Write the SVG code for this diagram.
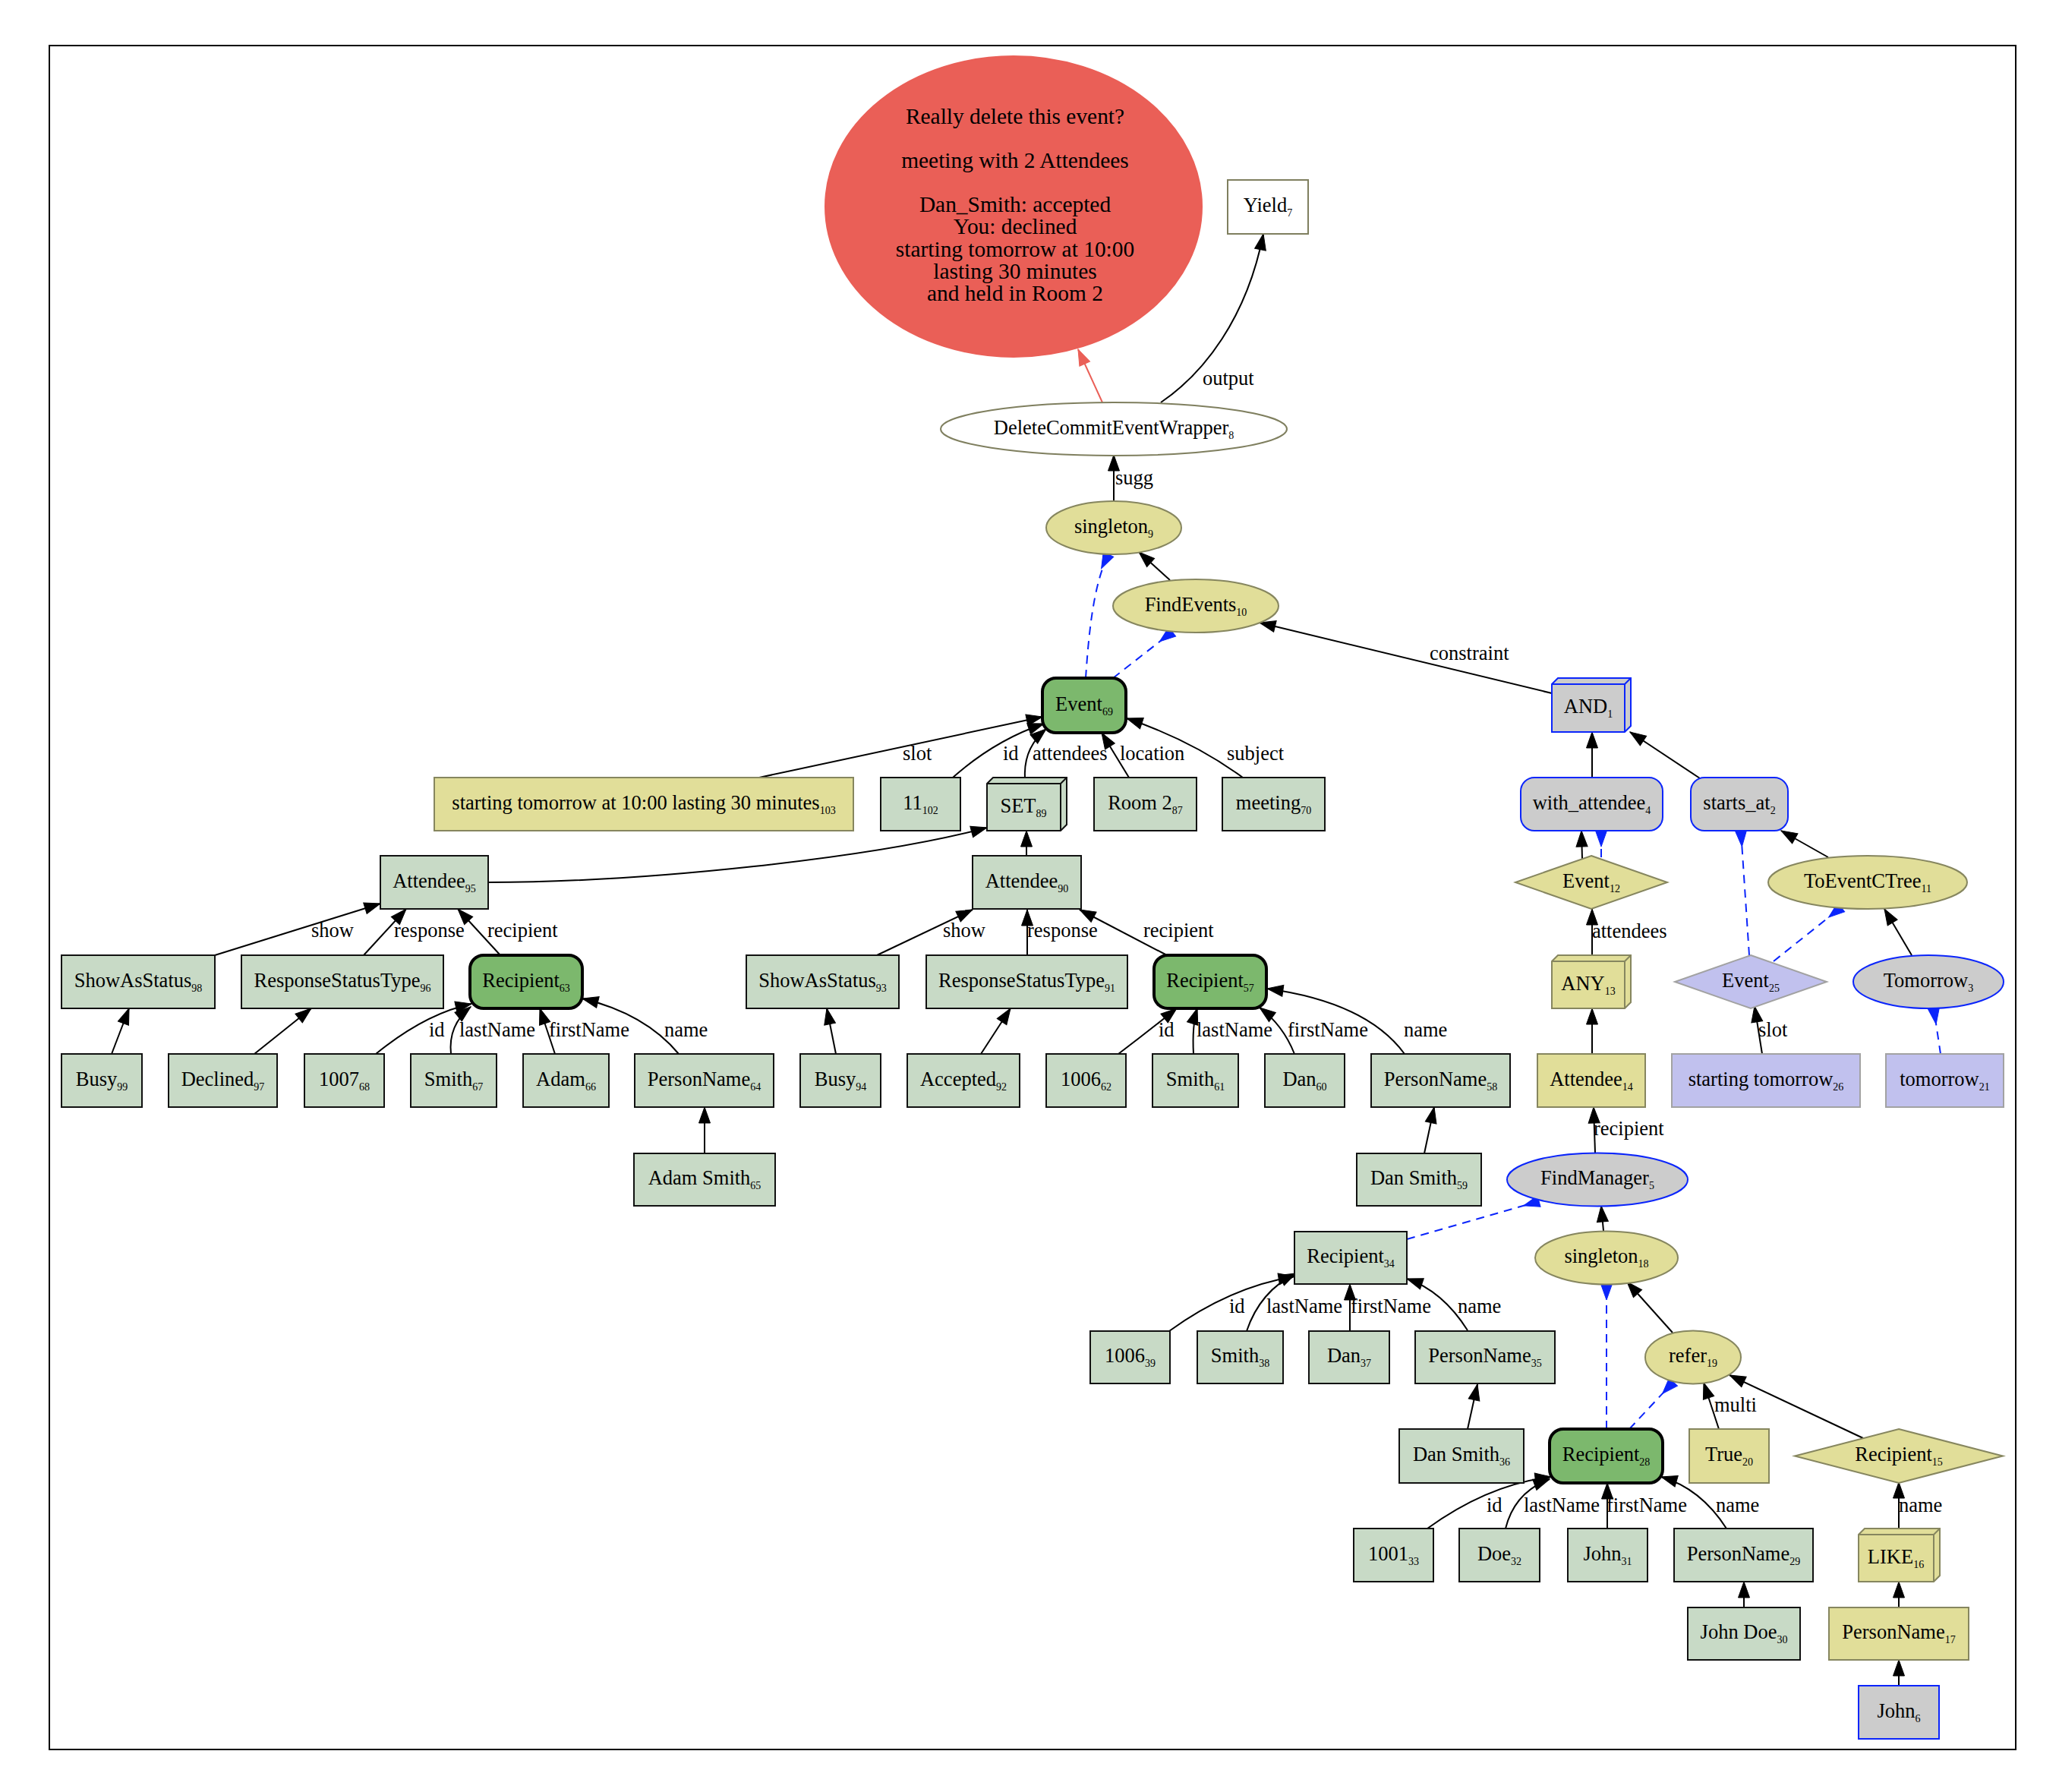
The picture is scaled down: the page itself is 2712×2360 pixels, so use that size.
<svg xmlns="http://www.w3.org/2000/svg" width="2712" height="2360" viewBox="0 0 2712 2360">
<defs>
<style>
text{font-family:"Liberation Serif","Times New Roman",serif;font-size:26.5px;fill:#000}
.n{text-anchor:middle}
.s{font-size:14px}
.rt{font-size:29.4px;text-anchor:middle}
.sage{fill:#c8dac6;stroke:#111;stroke-width:2}
.green{fill:#7cb86d;stroke:#000;stroke-width:4}
.yel{fill:#e1de99;stroke:#86865f;stroke-width:2}
.lav{fill:#c1c1ee;stroke:#a2a2a2;stroke-width:2}
.gray{fill:#cccccc;stroke:#0b25fb;stroke-width:2}
.wht{fill:#fff;stroke:#7f7f5f;stroke-width:2}
.red{fill:#ea5f57;stroke:#ea5f57;stroke-width:2}
.e{fill:none;stroke:#000;stroke-width:2;marker-end:url(#ah)}
.er{fill:none;stroke:#ea5f57;stroke-width:2;marker-end:url(#rh)}
.b{fill:none;stroke:#0b25fb;stroke-width:2;stroke-dasharray:11,8;marker-end:url(#bh)}
.ln{fill:none}
</style>
<marker id="ah" markerUnits="userSpaceOnUse" markerWidth="22" markerHeight="16" refX="0" refY="0" orient="auto" overflow="visible"><path d="M-21,-7.5 L0,0 L-21,7.5 z" fill="#000" stroke="#000" stroke-width="1"/></marker>
<marker id="rh" markerUnits="userSpaceOnUse" markerWidth="22" markerHeight="16" refX="0" refY="0" orient="auto" overflow="visible"><path d="M-21,-7.5 L0,0 L-21,7.5 z" fill="#ea5f57" stroke="#ea5f57" stroke-width="1"/></marker>
<marker id="bh" markerUnits="userSpaceOnUse" markerWidth="22" markerHeight="16" refX="0" refY="0" orient="auto" overflow="visible"><path d="M0,-7.5 L0,7.5 L-21,0 z" fill="#0b25fb" stroke="#0b25fb" stroke-width="1" stroke-dasharray="none"/></marker>
</defs>
<rect x="0" y="0" width="2712" height="2360" fill="#fff"/>
<rect x="65" y="60" width="2590" height="2244" fill="none" stroke="#000" stroke-width="2"/>

<g id="edges">
<path class="er" d="M1452,530 L1420,460"/>
<path class="e" d="M1529,530 C1585,492 1642,420 1664,308"/>
<path class="e" d="M1467,660 L1467,599"/>
<path class="e" d="M1541,764 L1500,727"/>
<path class="b" d="M1430,893 C1434,835 1440,770 1460,730"/>
<path class="b" d="M1466,893 L1544,832"/>
<path class="e" d="M2044,913 L1659,820"/>
<path class="e" d="M1000,1024 L1373,944"/>
<path class="e" d="M1255,1024 Q1310,975 1375,953"/>
<path class="e" d="M1350,1024 Q1348,985 1378,960"/>
<path class="e" d="M1487,1024 L1451,965"/>
<path class="e" d="M1637,1024 Q1570,975 1484,946"/>
<path class="e" d="M2097,1025 L2097,964"/>
<path class="e" d="M2239,1025 L2147,964"/>
<path class="e" d="M643,1162 C850,1162 1150,1130 1300,1090"/>
<path class="e" d="M1352,1127 L1352,1094"/>
<path class="e" d="M2084,1131 L2083,1094"/>
<path class="b" d="M2109,1129 L2109,1094"/>
<path class="e" d="M2408,1129 L2346,1094"/>
<path class="e" d="M283,1258 L501,1190"/>
<path class="e" d="M479,1258 L535,1197"/>
<path class="e" d="M659,1258 L603,1197"/>
<path class="e" d="M1155,1258 L1281,1198"/>
<path class="e" d="M1353,1258 L1353,1198"/>
<path class="e" d="M1537,1258 L1422,1198"/>
<path class="e" d="M2097,1258 L2097,1197"/>
<path class="b" d="M2304,1258 L2293,1094"/>
<path class="b" d="M2336,1266 L2425,1195"/>
<path class="e" d="M2518,1258 L2482,1197"/>
<path class="e" d="M147,1388 L170,1328"/>
<path class="e" d="M335,1388 L410,1328"/>
<path class="e" d="M495,1388 Q560,1335 621,1322"/>
<path class="e" d="M594,1388 Q590,1350 620,1326"/>
<path class="e" d="M731,1388 L711,1328"/>
<path class="e" d="M894,1388 Q850,1335 767,1315"/>
<path class="e" d="M1101,1388 L1089,1328"/>
<path class="e" d="M1292,1388 L1331,1328"/>
<path class="e" d="M1473,1388 Q1510,1360 1550,1328"/>
<path class="e" d="M1572,1388 Q1570,1350 1577,1328"/>
<path class="e" d="M1705,1388 Q1690,1350 1659,1327"/>
<path class="e" d="M1850,1388 Q1800,1320 1669,1302"/>
<path class="e" d="M2097,1388 L2097,1328"/>
<path class="e" d="M2321,1388 L2311,1325"/>
<path class="b" d="M2556,1388 L2547,1328"/>
<path class="e" d="M928,1519 L928,1458"/>
<path class="e" d="M1876,1519 L1889,1458"/>
<path class="e" d="M2101,1518 L2099,1458"/>
<path class="b" d="M1853,1632 L2027,1582"/>
<path class="e" d="M2112,1621 L2109,1588"/>
<path class="e" d="M1540,1753 Q1620,1695 1705,1681"/>
<path class="e" d="M1642,1753 Q1660,1700 1707,1677"/>
<path class="e" d="M1778,1753 L1778,1691"/>
<path class="e" d="M1933,1752 Q1900,1700 1853,1684"/>
<path class="e" d="M2203,1755 L2143,1688"/>
<path class="b" d="M2116,1882 L2116,1691"/>
<path class="b" d="M2146,1882 L2204,1820"/>
<path class="e" d="M1933,1882 L1946,1823"/>
<path class="e" d="M2264,1882 L2244,1821"/>
<path class="e" d="M2454,1894 L2278,1811"/>
<path class="e" d="M1880,2013 Q1960,1955 2043,1945"/>
<path class="e" d="M1983,2013 Q1995,1965 2041,1948"/>
<path class="e" d="M2117,2013 L2117,1953"/>
<path class="e" d="M2274,2013 Q2240,1960 2188,1945"/>
<path class="e" d="M2501,2013 L2501,1952"/>
<path class="e" d="M2297,2117 L2297,2083"/>
<path class="e" d="M2501,2117 L2501,2083"/>
<path class="e" d="M2501,2220 L2501,2186"/>
<text x="1584" y="507">output</text>
<text x="1469" y="638">sugg</text>
<text x="1883" y="869">constraint</text>
<text x="1189" y="1001">slot</text>
<text x="1321" y="1001">id</text>
<text x="1360" y="1001">attendees</text>
<text x="1475" y="1001">location</text>
<text x="1616" y="1001">subject</text>
<text x="2097" y="1235">attendees</text>
<text x="410" y="1234">show</text>
<text x="519" y="1234">response</text>
<text x="642" y="1234">recipient</text>
<text x="1242" y="1234">show</text>
<text x="1353" y="1234">response</text>
<text x="1506" y="1234">recipient</text>
<text x="565" y="1365">id</text>
<text x="605" y="1365">lastName</text>
<text x="723" y="1365">firstName</text>
<text x="875" y="1365">name</text>
<text x="1526" y="1365">id</text>
<text x="1576" y="1365">lastName</text>
<text x="1696" y="1365">firstName</text>
<text x="1849" y="1365">name</text>
<text x="2316" y="1365">slot</text>
<text x="2099" y="1495">recipient</text>
<text x="1619" y="1729">id</text>
<text x="1668" y="1729">lastName</text>
<text x="1779" y="1729">firstName</text>
<text x="1920" y="1729">name</text>
<text x="2258" y="1859">multi</text>
<text x="1958" y="1991">id</text>
<text x="2007" y="1991">lastName</text>
<text x="2116" y="1991">firstName</text>
<text x="2260" y="1991">name</text>
<text x="2501" y="1991">name</text>
</g>

<g id="node-confirm"><ellipse class="red" cx="1335" cy="272" rx="248" ry="198"/>
<text class="rt" x="1337" y="163">Really delete this event?</text>
<text class="rt" x="1337" y="221">meeting with 2 Attendees</text>
<text class="rt" x="1337" y="279">Dan_Smith: accepted</text>
<text class="rt" x="1337" y="308">You: declined</text>
<text class="rt" x="1337" y="338">starting tomorrow at 10:00</text>
<text class="rt" x="1337" y="367">lasting 30 minutes</text>
<text class="rt" x="1337" y="396">and held in Room 2</text></g>
<g id="n7"><rect class="wht" x="1617" y="237" width="106" height="71"/><text class="n" x="1670" y="279">Yield<tspan class="s" dy="6">7</tspan></text></g>
<g id="n8"><ellipse class="wht" cx="1467" cy="565" rx="228" ry="35"/><text class="n" x="1467" y="572">DeleteCommitEventWrapper<tspan class="s" dy="6">8</tspan></text></g>
<g id="n9"><ellipse class="yel" cx="1467" cy="695" rx="89" ry="35"/><text class="n" x="1467" y="702">singleton<tspan class="s" dy="6">9</tspan></text></g>
<g id="n10"><ellipse class="yel" cx="1575" cy="798" rx="109" ry="35"/><text class="n" x="1575" y="805">FindEvents<tspan class="s" dy="6">10</tspan></text></g>
<g id="n69"><rect class="green" x="1373" y="893" width="110" height="72" rx="18"/><text class="n" x="1428" y="936">Event<tspan class="s" dy="6">69</tspan></text></g>
<g id="n1"><path class="gray" d="M2044,901 L2052,893 L2148,893 L2148,956 L2140,964 L2044,964 Z M2044,901 L2140,901 L2140,964 M2140,901 L2148,893"/><text class="n" x="2092" y="939">AND<tspan class="s" dy="6">1</tspan></text></g>

<g id="n103"><rect class="yel" x="572" y="1024" width="552" height="70"/><text class="n" x="848" y="1066">starting tomorrow at 10:00 lasting 30 minutes<tspan class="s" dy="6">103</tspan></text></g>
<g id="n102"><rect class="sage" x="1160" y="1024" width="105" height="70"/><text class="n" x="1212.5" y="1066">11<tspan class="s" dy="6">102</tspan></text></g>
<g id="n89"><path class="sage" d="M1300,1032 L1308,1024 L1405,1024 L1405,1086 L1397,1094 L1300,1094 Z M1300,1032 L1397,1032 L1397,1094 M1397,1032 L1405,1024"/><text class="n" x="1348" y="1070">SET<tspan class="s" dy="6">89</tspan></text></g>
<g id="n87"><rect class="sage" x="1441" y="1024" width="135" height="70"/><text class="n" x="1508.5" y="1066">Room 2<tspan class="s" dy="6">87</tspan></text></g>
<g id="n70"><rect class="sage" x="1610" y="1024" width="135" height="70"/><text class="n" x="1677.5" y="1066">meeting<tspan class="s" dy="6">70</tspan></text></g>
<g id="n4"><rect class="gray" x="2003" y="1024" width="187" height="70" rx="18"/><text class="n" x="2096.5" y="1066">with_attendee<tspan class="s" dy="6">4</tspan></text></g>
<g id="n2"><rect class="gray" x="2227" y="1024" width="128" height="70" rx="18"/><text class="n" x="2291" y="1066">starts_at<tspan class="s" dy="6">2</tspan></text></g>

<g id="n95"><rect class="sage" x="501" y="1127" width="142" height="70"/><text class="n" x="572" y="1169">Attendee<tspan class="s" dy="6">95</tspan></text></g>
<g id="n90"><rect class="sage" x="1281" y="1127" width="143" height="70"/><text class="n" x="1352.5" y="1169">Attendee<tspan class="s" dy="6">90</tspan></text></g>
<g id="n12"><polygon class="yel" points="2096,1127 2196,1162 2096,1197 1996,1162"/><text class="n" x="2096" y="1169">Event<tspan class="s" dy="6">12</tspan></text></g>
<g id="n11"><ellipse class="yel" cx="2460" cy="1162" rx="131" ry="35"/><text class="n" x="2460" y="1169">ToEventCTree<tspan class="s" dy="6">11</tspan></text></g>

<g id="n98"><rect class="sage" x="81" y="1258" width="202" height="70"/><text class="n" x="182" y="1300">ShowAsStatus<tspan class="s" dy="6">98</tspan></text></g>
<g id="n96"><rect class="sage" x="318" y="1258" width="266" height="70"/><text class="n" x="451" y="1300">ResponseStatusType<tspan class="s" dy="6">96</tspan></text></g>
<g id="n63"><rect class="green" x="619" y="1258" width="148" height="70" rx="18"/><text class="n" x="693" y="1300">Recipient<tspan class="s" dy="6">63</tspan></text></g>
<g id="n93"><rect class="sage" x="983" y="1258" width="201" height="70"/><text class="n" x="1083.5" y="1300">ShowAsStatus<tspan class="s" dy="6">93</tspan></text></g>
<g id="n91"><rect class="sage" x="1220" y="1258" width="265" height="70"/><text class="n" x="1352.5" y="1300">ResponseStatusType<tspan class="s" dy="6">91</tspan></text></g>
<g id="n57"><rect class="green" x="1520" y="1258" width="148" height="70" rx="18"/><text class="n" x="1594" y="1300">Recipient<tspan class="s" dy="6">57</tspan></text></g>
<g id="n13"><path class="yel" d="M2044,1266 L2052,1258 L2148,1258 L2148,1320 L2140,1328 L2044,1328 Z M2044,1266 L2140,1266 L2140,1328 M2140,1266 L2148,1258"/><text class="n" x="2092" y="1304">ANY<tspan class="s" dy="6">13</tspan></text></g>
<g id="n25"><polygon class="lav" points="2306,1258 2406,1293 2306,1328 2206,1293"/><text class="n" x="2306" y="1300">Event<tspan class="s" dy="6">25</tspan></text></g>
<g id="n3"><ellipse class="gray" cx="2540" cy="1293" rx="99" ry="35"/><text class="n" x="2540" y="1300">Tomorrow<tspan class="s" dy="6">3</tspan></text></g>

<g id="n99"><rect class="sage" x="81" y="1388" width="106" height="70"/><text class="n" x="134" y="1430">Busy<tspan class="s" dy="6">99</tspan></text></g>
<g id="n97"><rect class="sage" x="222" y="1388" width="143" height="70"/><text class="n" x="293.5" y="1430">Declined<tspan class="s" dy="6">97</tspan></text></g>
<g id="n68"><rect class="sage" x="401" y="1388" width="105" height="70"/><text class="n" x="453.5" y="1430">1007<tspan class="s" dy="6">68</tspan></text></g>
<g id="n67"><rect class="sage" x="541" y="1388" width="113" height="70"/><text class="n" x="597.5" y="1430">Smith<tspan class="s" dy="6">67</tspan></text></g>
<g id="n66"><rect class="sage" x="689" y="1388" width="113" height="70"/><text class="n" x="745.5" y="1430">Adam<tspan class="s" dy="6">66</tspan></text></g>
<g id="n64"><rect class="sage" x="836" y="1388" width="183" height="70"/><text class="n" x="927.5" y="1430">PersonName<tspan class="s" dy="6">64</tspan></text></g>
<g id="n94"><rect class="sage" x="1054" y="1388" width="106" height="70"/><text class="n" x="1107" y="1430">Busy<tspan class="s" dy="6">94</tspan></text></g>
<g id="n92"><rect class="sage" x="1195" y="1388" width="148" height="70"/><text class="n" x="1269" y="1430">Accepted<tspan class="s" dy="6">92</tspan></text></g>
<g id="n62"><rect class="sage" x="1378" y="1388" width="105" height="70"/><text class="n" x="1430.5" y="1430">1006<tspan class="s" dy="6">62</tspan></text></g>
<g id="n61"><rect class="sage" x="1518" y="1388" width="113" height="70"/><text class="n" x="1574.5" y="1430">Smith<tspan class="s" dy="6">61</tspan></text></g>
<g id="n60"><rect class="sage" x="1666" y="1388" width="105" height="70"/><text class="n" x="1718.5" y="1430">Dan<tspan class="s" dy="6">60</tspan></text></g>
<g id="n58"><rect class="sage" x="1806" y="1388" width="183" height="70"/><text class="n" x="1897.5" y="1430">PersonName<tspan class="s" dy="6">58</tspan></text></g>
<g id="n14"><rect class="yel" x="2025" y="1388" width="142" height="70"/><text class="n" x="2096" y="1430">Attendee<tspan class="s" dy="6">14</tspan></text></g>
<g id="n26"><rect class="lav" x="2202" y="1388" width="248" height="70"/><text class="n" x="2326" y="1430">starting tomorrow<tspan class="s" dy="6">26</tspan></text></g>
<g id="n21"><rect class="lav" x="2484" y="1388" width="155" height="70"/><text class="n" x="2561.5" y="1430">tomorrow<tspan class="s" dy="6">21</tspan></text></g>

<g id="n65"><rect class="sage" x="835" y="1519" width="186" height="69"/><text class="n" x="928" y="1560">Adam Smith<tspan class="s" dy="6">65</tspan></text></g>
<g id="n59"><rect class="sage" x="1787" y="1519" width="164" height="69"/><text class="n" x="1869" y="1560">Dan Smith<tspan class="s" dy="6">59</tspan></text></g>
<g id="n5"><ellipse class="gray" cx="2104" cy="1553.5" rx="119" ry="35"/><text class="n" x="2104" y="1560">FindManager<tspan class="s" dy="6">5</tspan></text></g>

<g id="n34"><rect class="sage" x="1705" y="1622" width="148" height="69"/><text class="n" x="1779" y="1663">Recipient<tspan class="s" dy="6">34</tspan></text></g>
<g id="n18"><ellipse class="yel" cx="2116" cy="1656.5" rx="94" ry="35"/><text class="n" x="2116" y="1663">singleton<tspan class="s" dy="6">18</tspan></text></g>

<g id="n39"><rect class="sage" x="1436" y="1753" width="105" height="69"/><text class="n" x="1488.5" y="1794">1006<tspan class="s" dy="6">39</tspan></text></g>
<g id="n38"><rect class="sage" x="1577" y="1753" width="113" height="69"/><text class="n" x="1633.5" y="1794">Smith<tspan class="s" dy="6">38</tspan></text></g>
<g id="n37"><rect class="sage" x="1724" y="1753" width="106" height="69"/><text class="n" x="1777" y="1794">Dan<tspan class="s" dy="6">37</tspan></text></g>
<g id="n35"><rect class="sage" x="1864" y="1753" width="184" height="69"/><text class="n" x="1956" y="1794">PersonName<tspan class="s" dy="6">35</tspan></text></g>
<g id="n19"><ellipse class="yel" cx="2230" cy="1787.5" rx="63" ry="35"/><text class="n" x="2230" y="1794">refer<tspan class="s" dy="6">19</tspan></text></g>

<g id="n36"><rect class="sage" x="1843" y="1882" width="164" height="71"/><text class="n" x="1925" y="1924">Dan Smith<tspan class="s" dy="6">36</tspan></text></g>
<g id="n28"><rect class="green" x="2041" y="1882" width="149" height="71" rx="18"/><text class="n" x="2115.5" y="1924">Recipient<tspan class="s" dy="6">28</tspan></text></g>
<g id="n20"><rect class="yel" x="2225" y="1882" width="105" height="71"/><text class="n" x="2277.5" y="1924">True<tspan class="s" dy="6">20</tspan></text></g>
<g id="n15"><polygon class="yel" points="2501,1882 2638,1917.5 2501,1953 2364,1917.5"/><text class="n" x="2501" y="1924">Recipient<tspan class="s" dy="6">15</tspan></text></g>

<g id="n33"><rect class="sage" x="1783" y="2013" width="105" height="70"/><text class="n" x="1835.5" y="2055">1001<tspan class="s" dy="6">33</tspan></text></g>
<g id="n32"><rect class="sage" x="1922" y="2013" width="106" height="70"/><text class="n" x="1975" y="2055">Doe<tspan class="s" dy="6">32</tspan></text></g>
<g id="n31"><rect class="sage" x="2065" y="2013" width="105" height="70"/><text class="n" x="2117.5" y="2055">John<tspan class="s" dy="6">31</tspan></text></g>
<g id="n29"><rect class="sage" x="2205" y="2013" width="183" height="70"/><text class="n" x="2296.5" y="2055">PersonName<tspan class="s" dy="6">29</tspan></text></g>
<g id="n16"><path class="yel" d="M2448,2021 L2456,2013 L2555,2013 L2555,2075 L2547,2083 L2448,2083 Z M2448,2021 L2547,2021 L2547,2083 M2547,2021 L2555,2013"/><text class="n" x="2497" y="2059">LIKE<tspan class="s" dy="6">16</tspan></text></g>

<g id="n30"><rect class="sage" x="2223" y="2117" width="148" height="69"/><text class="n" x="2297" y="2158">John Doe<tspan class="s" dy="6">30</tspan></text></g>
<g id="n17"><rect class="yel" x="2409" y="2117" width="184" height="69"/><text class="n" x="2501" y="2158">PersonName<tspan class="s" dy="6">17</tspan></text></g>
<g id="n6"><rect class="gray" x="2448" y="2220" width="106" height="70"/><text class="n" x="2501" y="2262">John<tspan class="s" dy="6">6</tspan></text></g>
</svg>
